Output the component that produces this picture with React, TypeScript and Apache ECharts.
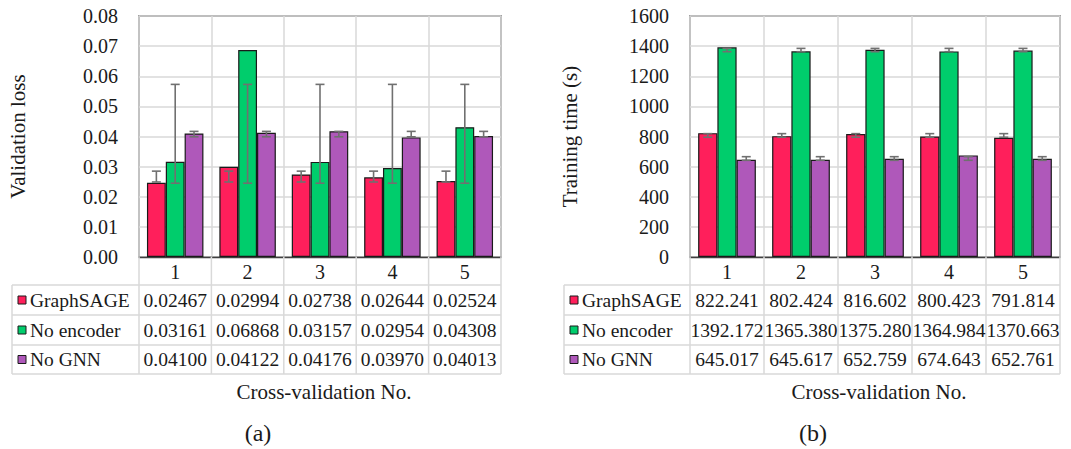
import React, { useEffect, useRef } from "react";
import * as echarts from "echarts";

const categories = ["1", "2", "3", "4", "5"];
const seriesNames = ["GraphSAGE", "No encoder", "No GNN"];
const seriesColors = ["#FF1F5B", "#00CD6C", "#AF58BA"];

const lossGraphSAGE = [0.02467, 0.02994, 0.02738, 0.02644, 0.02524];
const lossNoEncoder = [0.03161, 0.06868, 0.03157, 0.02954, 0.04308];
const lossNoGNN = [0.041, 0.04122, 0.04176, 0.0397, 0.04013];

const timeGraphSAGE = [822.241, 802.424, 816.602, 800.423, 791.814];
const timeNoEncoder = [1392.172, 1365.38, 1375.28, 1364.984, 1370.663];
const timeNoGNN = [645.017, 645.617, 652.759, 674.643, 652.761];

// error bar ranges (low, high), same for every fold
const lossErrLow = [0.0249, 0.0245, 0.0399];
const lossErrHigh = [0.0285, 0.0573, 0.0417];
const timeErrLow = [795, 1363, 642];
const timeErrHigh = [819, 1385, 666];

const lossTicks = { min: 0, max: 0.08, interval: 0.01 };
const timeTicks = { min: 0, max: 1600, interval: 200 };

const FONT = "Liberation Serif";
const TXT = "#1a1a1a";
const GAP = 0.22;

const panels = [
  {
    left: 139, width: 362, tableLeft: 12,
    data: [lossGraphSAGE, lossNoEncoder, lossNoGNN],
    errLow: lossErrLow, errHigh: lossErrHigh,
    ticks: lossTicks, decimals: 5, labelDec: 2,
    title: "Validation loss", titleX: 18, tag: "(a)",
  },
  {
    left: 690, width: 370, tableLeft: 564,
    data: [timeGraphSAGE, timeNoEncoder, timeNoGNN],
    errLow: timeErrLow, errHigh: timeErrHigh,
    ticks: timeTicks, decimals: 3, labelDec: 0,
    title: "Training time (s)", titleX: 570, tag: "(b)",
  },
];

const TOP = 16;
const BOTTOM = 257;
const ROWS = [285, 315, 345, 374];

const txt = (size: number, extra: any = {}) => ({
  fontFamily: FONT, fontSize: size, fill: TXT, ...extra,
});

export default function App() {
  const ref = useRef<HTMLDivElement>(null);
  useEffect(() => {
    if (!ref.current) return;
    const chart = echarts.init(ref.current, null, { renderer: "svg" });
    const grids: any[] = [];
    const xAxes: any[] = [];
    const yAxes: any[] = [];
    const series: any[] = [];
    const graphics: any[] = [];

    panels.forEach((p, gi) => {
      grids.push({
        left: p.left, top: TOP, width: p.width, height: BOTTOM - TOP,
        show: true, borderColor: "#404040", borderWidth: 1.3, backgroundColor: "#fff",
      });
      xAxes.push({
        gridIndex: gi, type: "category", data: categories,
        axisTick: { show: false },
        axisLine: { show: true, lineStyle: { color: "#404040", width: 1.3 } },
        axisLabel: { fontFamily: FONT, fontSize: 20, color: TXT, margin: 5 },
        splitLine: { show: true, lineStyle: { color: "#d9d9d9", width: 1.5 } },
      });
      yAxes.push({
        gridIndex: gi, type: "value", ...p.ticks,
        axisLine: { show: false }, axisTick: { show: false },
        axisLabel: {
          fontFamily: FONT, fontSize: 20, color: TXT, margin: 21,
          formatter: (v: number) => v.toFixed(p.labelDec),
        },
        splitLine: { show: true, lineStyle: { color: "#d9d9d9", width: 1.5 } },
      });
      p.data.forEach((arr, k) => {
        series.push({
          type: "bar", name: seriesNames[k], xAxisIndex: gi, yAxisIndex: gi,
          data: arr, barGap: "0%", barCategoryGap: GAP * 100 + "%",
          itemStyle: { color: seriesColors[k], borderColor: "#1a1a1a", borderWidth: 1.2 },
          z: 2,
        });
      });
      p.data.forEach((arr, k) => {
        series.push({
          type: "custom", xAxisIndex: gi, yAxisIndex: gi, z: 5,
          encode: { x: 0, y: [1, 2] },
          data: arr.map((_, ci) => [ci, p.errLow[k], p.errHigh[k]]),
          renderItem: (params: any, api: any) => {
            const ci = api.value(0);
            const lo = api.coord([ci, api.value(1)]);
            const hi = api.coord([ci, api.value(2)]);
            const cw = api.size([1, 0])[0];
            const bw = (cw * (1 - GAP)) / 3;
            const x = lo[0] + (k - 1) * bw;
            const style = { stroke: "#707070", lineWidth: 1.6 };
            const c = 4.5;
            return {
              type: "group",
              children: [
                { type: "line", shape: { x1: x, y1: lo[1], x2: x, y2: hi[1] }, style },
                { type: "line", shape: { x1: x - c, y1: lo[1], x2: x + c, y2: lo[1] }, style },
                { type: "line", shape: { x1: x - c, y1: hi[1], x2: x + c, y2: hi[1] }, style },
              ],
            };
          },
        });
      });

      // table
      const cw = p.width / categories.length;
      const right = p.left + p.width;
      const lineStyle = { stroke: "#d9d9d9", lineWidth: 1.5 };
      for (let c = 0; c <= categories.length; c++) {
        const x = p.left + c * cw;
        graphics.push({ type: "line", shape: { x1: x, y1: BOTTOM, x2: x, y2: ROWS[3] }, style: lineStyle, z: 1 });
      }
      ROWS.forEach((y) => {
        graphics.push({ type: "line", shape: { x1: p.tableLeft, y1: y, x2: right, y2: y }, style: lineStyle, z: 1 });
      });
      graphics.push({ type: "line", shape: { x1: p.tableLeft, y1: ROWS[0], x2: p.tableLeft, y2: ROWS[3] }, style: lineStyle, z: 1 });
      p.data.forEach((arr, k) => {
        const yc = (ROWS[k] + ROWS[k + 1]) / 2;
        graphics.push({
          type: "rect", shape: { x: p.tableLeft + 6, y: yc - 4, width: 8, height: 8 },
          style: { fill: seriesColors[k], stroke: "#1a1a1a", lineWidth: 1 }, z: 3,
        });
        graphics.push({
          type: "text", x: p.tableLeft + 18, y: yc,
          style: txt(19.5, { text: seriesNames[k], align: "left", verticalAlign: "middle" }), z: 3,
        });
        arr.forEach((v, ci) => {
          graphics.push({
            type: "text", x: p.left + (ci + 0.5) * cw, y: yc,
            style: txt(19.5, { text: v.toFixed(p.decimals), align: "center", verticalAlign: "middle" }), z: 3,
          });
        });
      });
      graphics.push({
        type: "text", x: p.titleX, y: (TOP + BOTTOM) / 2, rotation: Math.PI / 2,
        style: txt(21, { text: p.title, align: "center", verticalAlign: "middle" }),
      });
      graphics.push({
        type: "text", x: p.left + p.width / 2 + 4, y: 392,
        style: txt(21, { text: "Cross-validation No.", align: "center", verticalAlign: "middle" }),
      });
      graphics.push({
        type: "text", x: p.left + p.width / 2 - 62, y: 433,
        style: txt(24, { text: p.tag, align: "center", verticalAlign: "middle" }),
      });
    });

    chart.setOption({
      animation: false,
      backgroundColor: "#fff",
      grid: grids, xAxis: xAxes, yAxis: yAxes, series,
      graphic: graphics,
    });
    return () => chart.dispose();
  }, []);
  return (
    <div
      ref={ref}
      style={{ position: "fixed", left: 0, top: 0, width: 1071, height: 449, background: "#fff" }}
    />
  );
}
